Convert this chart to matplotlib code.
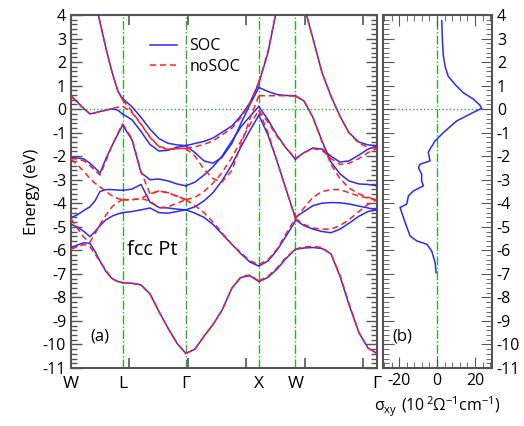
import numpy as np
import matplotlib
matplotlib.use("Agg")
import matplotlib.pyplot as plt
from matplotlib.ticker import MultipleLocator

plt.rcParams['font.family'] = ['Open Sans', 'DejaVu Sans']
plt.rcParams['axes.unicode_minus'] = False

# k-path nodes (units of 2pi/a) and labels
k_nodes = [0.0, 0.707, 1.573, 2.573, 3.073, 4.191]
k_labels = ['W', 'L', 'Γ', 'X', 'W', 'Γ']

# ---- segment W -> L
k_WL = [0.0, 0.082, 0.178, 0.260, 0.329, 0.397, 0.479, 0.562, 0.644, 0.707]
soc_WL = [
    [-5.89, -5.78, -5.68, -5.70, -6.05, -6.45, -6.90, -7.20, -7.33, -7.37],
    [-4.89, -5.00, -5.20, -5.42, -5.20, -4.95, -4.70, -4.55, -4.45, -4.40],
    [-4.61, -4.50, -4.30, -4.15, -3.90, -3.50, -3.42, -3.42, -3.44, -3.45],
    [-2.06, -2.07, -2.12, -2.30, -2.50, -2.72, -2.10, -1.55, -1.05, -0.68],
    [0.57, 0.32, 0.02, -0.20, -0.16, -0.10, -0.05, 0.02, -0.05, -0.21],
    [8.5, 7.5, 6.5, 5.5, 4.6, 3.7, 2.58, 1.57, 0.75, 0.45],
]
nosoc_WL = [
    [-5.95, -5.85, -5.75, -5.85, -6.16, -6.47, -6.85, -7.20, -7.33, -7.37],
    [-4.65, -5.03, -5.45, -5.65, -5.30, -4.90, -4.50, -4.15, -3.95, -3.85],
    [-2.13, -2.35, -2.65, -2.95, -3.15, -3.30, -3.50, -3.68, -3.80, -3.85],
    [-2.10, -2.12, -2.20, -2.40, -2.60, -2.80, -2.20, -1.55, -1.00, -0.62],
    [0.55, 0.30, 0.00, -0.20, -0.16, -0.10, -0.04, 0.03, 0.08, 0.12],
    [8.5, 7.5, 6.5, 5.5, 4.6, 3.7, 2.58, 1.57, 0.75, 0.40],
]

# ---- segment L -> Gamma
k_LG = [0.707, 0.835, 0.959, 1.082, 1.205, 1.328, 1.452, 1.573]
soc_LG = [
    [-7.37, -7.40, -7.47, -7.85, -8.60, -9.30, -9.95, -10.38],
    [-4.40, -4.35, -4.28, -4.20, -4.40, -4.42, -4.35, -4.28],
    [-3.45, -3.40, -3.20, -3.95, -4.18, -4.20, -4.25, -4.28],
    [-0.68, -1.30, -2.70, -3.00, -2.97, -3.05, -3.18, -3.26],
    [-0.21, -0.45, -0.95, -1.50, -1.78, -1.75, -1.62, -1.55],
    [0.45, 0.10, -0.35, -0.85, -1.25, -1.45, -1.52, -1.55],
]
nosoc_LG = [
    [-7.37, -7.40, -7.47, -7.85, -8.60, -9.30, -9.95, -10.38],
    [-3.85, -3.85, -3.80, -3.90, -4.20, -4.15, -4.00, -3.85],
    [-3.85, -3.85, -3.80, -3.60, -3.48, -3.55, -3.70, -3.85],
    [-0.62, -1.25, -2.65, -3.60, -3.48, -3.55, -3.70, -3.85],
    [0.12, -0.15, -0.65, -1.20, -1.60, -1.72, -1.68, -1.67],
    [0.40, -0.10, -0.63, -1.18, -1.58, -1.70, -1.67, -1.67],
]

# ---- segment Gamma -> X
k_GX = [1.573, 1.698, 1.822, 1.945, 2.068, 2.205, 2.328, 2.452, 2.573]
soc_GX = [
    [-10.38, -10.20, -9.65, -9.15, -8.55, -7.60, -7.15, -7.08, -7.33],
    [-4.28, -4.42, -4.60, -4.90, -5.30, -5.75, -6.15, -6.50, -6.67],
    [-4.28, -4.15, -3.90, -3.55, -3.05, -2.35, -1.60, -0.90, -0.26],
    [-3.26, -3.10, -2.80, -2.45, -2.00, -1.35, -0.75, -0.30, 0.11],
    [-1.55, -1.85, -2.20, -2.30, -2.05, -1.45, -0.60, 0.20, 0.92],
    [-1.55, -1.46, -1.37, -1.23, -0.99, -0.71, -0.28, 0.28, 1.10],
]
nosoc_GX = [
    [-10.38, -10.20, -9.65, -9.15, -8.55, -7.60, -7.12, -7.05, -7.30],
    [-3.85, -4.10, -4.40, -4.80, -5.25, -5.75, -6.10, -6.45, -6.60],
    [-3.85, -3.75, -3.50, -3.15, -2.70, -2.05, -1.35, -0.65, -0.05],
    [-1.67, -2.00, -2.55, -2.95, -3.10, -2.60, -1.50, -0.40, 0.57],
    [-1.67, -1.60, -1.50, -1.35, -1.10, -0.80, -0.35, 0.25, 1.15],
]

# ---- segment X -> W
k_XW = [2.573, 2.698, 2.821, 2.945, 3.073]
soc_XW = [
    [-7.33, -7.15, -6.80, -6.35, -5.96],
    [-6.67, -6.45, -6.00, -5.40, -4.75],
    [-0.26, -1.10, -2.20, -3.40, -4.60],
    [0.11, -0.45, -1.10, -1.65, -2.13],
    [0.92, 0.75, 0.62, 0.58, 0.57],
    [1.10, 2.40, 4.30, 6.00, 7.50],
]
nosoc_XW = [
    [-7.30, -7.10, -6.75, -6.30, -5.95],
    [-6.60, -6.40, -5.95, -5.30, -4.65],
    [-0.05, -1.00, -2.20, -3.40, -4.65],
    [-0.05, -0.55, -1.15, -1.65, -2.10],
    [0.57, 0.57, 0.57, 0.57, 0.55],
    [1.15, 2.45, 4.30, 6.00, 7.50],
]

# ---- segment W -> Gamma
k_WG = [3.073, 3.191, 3.314, 3.438, 3.561, 3.684, 3.807, 3.944, 4.068, 4.191]
soc_WG = [
    [-5.96, -5.90, -5.88, -5.92, -6.15, -7.10, -8.30, -9.50, -10.15, -10.38],
    [-4.70, -4.95, -5.10, -5.20, -5.25, -5.10, -4.85, -4.55, -4.35, -4.28],
    [-4.60, -4.35, -4.10, -4.00, -3.97, -3.98, -4.03, -4.12, -4.20, -4.28],
    [0.57, 0.35, -0.35, -1.35, -2.25, -2.75, -3.05, -3.18, -3.20, -3.26],
    [-2.13, -1.85, -1.65, -1.70, -2.00, -2.25, -2.20, -1.95, -1.70, -1.55],
    [6.0, 4.4, 3.0, 1.55, 0.55, -0.30, -1.00, -1.40, -1.52, -1.55],
]
nosoc_WG = [
    [-5.95, -5.85, -5.83, -5.88, -6.15, -7.05, -8.25, -9.50, -10.15, -10.38],
    [-4.65, -4.90, -5.05, -5.10, -5.10, -4.95, -4.70, -4.35, -4.05, -3.85],
    [-4.65, -4.20, -3.75, -3.50, -3.42, -3.42, -3.55, -3.70, -3.78, -3.85],
    [0.55, 0.35, -0.35, -1.40, -2.35, -2.95, -3.35, -3.60, -3.75, -3.85],
    [-2.10, -1.85, -1.68, -1.75, -2.10, -2.35, -2.30, -2.10, -1.85, -1.67],
    [6.0, 4.4, 3.0, 1.55, 0.55, -0.30, -1.00, -1.45, -1.62, -1.67],
]

# ---- spin Hall conductivity, panel (b)
sig_E = [3.76, 3.0, 2.3, 1.8, 1.4, 1.05, 0.7, 0.43, 0.17, 0.03, -0.14, -0.21,
         -0.5, -1.0, -1.35, -1.7, -1.84, -2.2, -2.34, -2.48, -2.77, -3.05,
         -3.26, -3.48, -3.69, -4.04, -4.18, -4.4, -4.82, -5.39, -5.6, -5.74,
         -6.03, -6.52, -6.95]
sig_xy = [2.5, 2.8, 3.3, 4.3, 5.9, 9.5, 13.8, 19.1, 22.6, 23.5, 19.1, 17.4,
          10.4, 3.3, -1.0, -3.7, -4.6, -3.7, -8.9, -9.8, -8.1, -8.1,
          -7.2, -12.5, -15.1, -16.0, -19.5, -18.6, -16.8, -14.2, -10.7, -5.4,
          -2.8, -1.0, -0.5]

blue = '#2a2aff'
red = '#ff2020'
green = '#33aa33'
grey = '#555555'

fig = plt.figure(figsize=(5.24, 4.26), dpi=100)
ax = fig.add_axes([71 / 524, 58 / 426, 306 / 524, 353 / 426])
ax2 = fig.add_axes([383 / 524, 58 / 426, 109 / 524, 353 / 426])

segments = [(k_WL, soc_WL, nosoc_WL), (k_LG, soc_LG, nosoc_LG),
            (k_GX, soc_GX, nosoc_GX), (k_XW, soc_XW, nosoc_XW),
            (k_WG, soc_WG, nosoc_WG)]

for kk in k_nodes[1:-1]:
    ax.axvline(kk, color=green, lw=1.0, ls='-.', zorder=1)
ax.axhline(0, color=green, lw=1.0, ls=':', zorder=1)

for i, (kk, soc, nosoc) in enumerate(segments):
    for b in soc:
        ax.plot(kk, b, color=blue, lw=1.1, zorder=3,
                label='SOC' if (i == 0 and b is soc[0]) else None)
    for b in nosoc:
        ax.plot(kk, b, color=red, lw=1.1, ls=(0, (4, 2.5)), zorder=4,
                label='noSOC' if (i == 0 and b is nosoc[0]) else None)

ax.set_xlim(k_nodes[0], k_nodes[-1])
ax.set_ylim(-11, 4)
ax.set_xticks(k_nodes)
ax.set_xticklabels(k_labels, fontsize=12.5)
ax.xaxis.set_minor_locator(MultipleLocator(0.8))
ax.yaxis.set_major_locator(MultipleLocator(1))
ax.yaxis.set_minor_locator(MultipleLocator(0.2))
ax.tick_params(axis='x', which='major', length=0, pad=6)
ax.tick_params(axis='x', which='minor', direction='in', length=7, width=1.2,
               color=grey, top=True, bottom=True)
ax.tick_params(axis='y', which='both', direction='in', left=True, right=True,
               color=grey, width=1.0, labelsize=11.5)
ax.tick_params(axis='y', which='major', length=8)
ax.tick_params(axis='y', which='minor', length=4)
ax.set_ylabel('Energy (eV)', fontsize=12, labelpad=2)
ax.text(0.77, -6.0, 'fcc Pt', fontsize=14.5, va='center')
ax.text(0.27, -9.65, '(a)', fontsize=12, va='center')
ax.legend(loc='upper left', bbox_to_anchor=(0.21, 0.975), frameon=False,
          fontsize=11.5, handlelength=1.7, labelspacing=0.3, handletextpad=0.8)

ax2.axvline(0, color=green, lw=1.0, ls='-.', zorder=1)
ax2.axhline(0, color=green, lw=1.0, ls=':', zorder=1)
ax2.plot(sig_xy, sig_E, color=blue, lw=1.1, zorder=3)
ax2.set_xlim(-28.5, 29)
ax2.set_ylim(-11, 4)
ax2.xaxis.set_major_locator(MultipleLocator(20))
ax2.xaxis.set_minor_locator(MultipleLocator(4))
ax2.yaxis.set_major_locator(MultipleLocator(1))
ax2.yaxis.set_minor_locator(MultipleLocator(0.2))
ax2.tick_params(axis='both', which='both', direction='in', color=grey,
                left=True, right=True, top=True, bottom=True,
                labelleft=False, labelright=True, labelsize=11.5)
ax2.tick_params(axis='both', which='major', length=8)
ax2.tick_params(axis='both', which='minor', length=4)
ax2.set_xlabel(r'$\mathregular{\sigma_{xy}\ (10^{\,2}\Omega^{-1}cm^{-1})}$',
               fontsize=11.5, labelpad=4)
ax2.text(-23.5, -9.65, '(b)', fontsize=12, va='center')

for a in (ax, ax2):
    for s in a.spines.values():
        s.set_color(grey)
        s.set_linewidth(1.5)

fig.savefig('out.png', dpi=100)
